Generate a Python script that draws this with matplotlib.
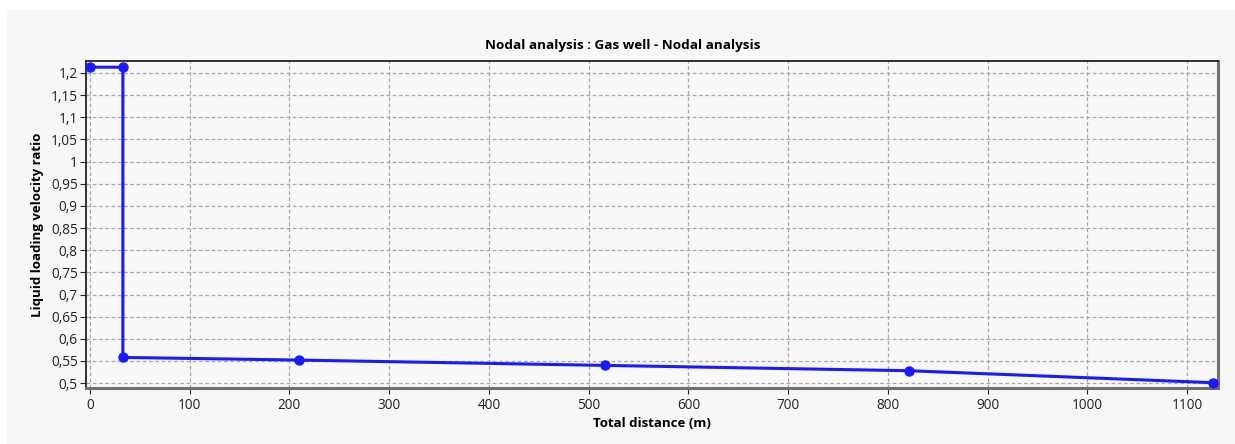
import matplotlib
matplotlib.use("Agg")
import matplotlib.pyplot as plt
from matplotlib.patches import Rectangle
from matplotlib.ticker import FuncFormatter, MultipleLocator

# Liquid loading velocity ratio along the well path
distance_m = [0, 33, 33, 210, 516, 821, 1126]
velocity_ratio = [1.213, 1.213, 0.558, 0.552, 0.540, 0.528, 0.501]

title = "Nodal analysis : Gas well - Nodal analysis"
x_label = "Total distance (m)"
y_label = "Liquid loading velocity ratio"

plt.rcParams["font.family"] = ["Open Sans", "DejaVu Sans"]

fig = plt.figure(figsize=(12.35, 4.44), dpi=100)
fig.patch.set_facecolor("white")
# light panel behind the chart
fig.patches.append(Rectangle((7 / 1235, 0), 1 - 7 / 1235, 1 - 10 / 444,
                             transform=fig.transFigure, facecolor="#f7f7f7",
                             edgecolor="none", zorder=-10))

ax = fig.add_axes([86 / 1235, 1 - 388 / 444, (1218 - 86) / 1235, (388 - 61) / 444])
ax.set_facecolor("#f8f8f8")

ax.plot(distance_m, velocity_ratio, color="#1a1aff", lw=2.2,
        marker="o", ms=6.5, solid_joinstyle="miter", zorder=3, clip_on=False)

ax.set_xlim(-4, 1131)
ax.set_ylim(0.489, 1.227)
ax.xaxis.set_major_locator(MultipleLocator(100))
ax.yaxis.set_major_locator(MultipleLocator(0.05))

def comma_fmt(v, pos):
    s = f"{v:.2f}".rstrip("0").rstrip(".")
    return s.replace(".", ",")

ax.yaxis.set_major_formatter(FuncFormatter(comma_fmt))
ax.xaxis.set_major_formatter(FuncFormatter(lambda v, p: f"{v:.0f}"))

ax.grid(True, color="#a8a8a8", linestyle=(0, (3, 2)), linewidth=0.9)
ax.tick_params(axis="both", labelsize=9.8, colors="#222222", length=4,
               width=0.8, direction="out")
ax.tick_params(axis="x", pad=3)
ax.tick_params(axis="y", pad=2)

for side in ("top", "left"):
    ax.spines[side].set_color("#111111")
    ax.spines[side].set_linewidth(1.2)
for side in ("bottom", "right"):
    ax.spines[side].set_color("#707070")
    ax.spines[side].set_linewidth(2.2)

fig.text(623 / 1235, 1 - 45 / 444, title, ha="center", va="center",
         fontsize=9.7, fontweight="bold")
ax.set_xlabel(x_label, fontsize=9.5, fontweight="bold", labelpad=3)
ax.set_ylabel(y_label, fontsize=9.5, fontweight="bold", labelpad=5)

fig.savefig("out.png", dpi=100, facecolor=fig.get_facecolor())
